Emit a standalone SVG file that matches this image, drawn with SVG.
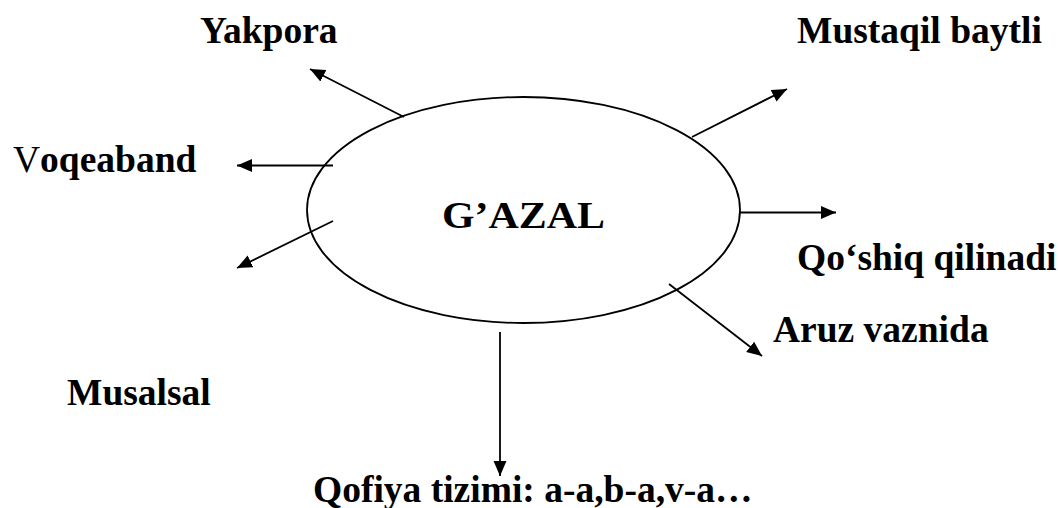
<svg xmlns="http://www.w3.org/2000/svg" width="1058" height="508" viewBox="0 0 1058 508">
<style>
.t{font-family:"Liberation Serif","Times New Roman",serif;font-weight:bold;font-size:37.5px;fill:#000}
.c{stroke:#000;stroke-width:1.8;fill:none}
</style>
<defs>
<marker id="ah" markerUnits="userSpaceOnUse" markerWidth="16" markerHeight="14" refX="15" refY="6.5" orient="auto">
<path d="M0,0 L15,6.5 L0,13 Z" fill="#000"/>
</marker>
</defs>
<rect width="1058" height="508" fill="#fff"/>
<g id="gazal">
<ellipse cx="523.5" cy="210" rx="216.5" ry="113" class="c" stroke-width="2"/>
<text class="t" x="442" y="228" font-size="49" textLength="163" lengthAdjust="spacingAndGlyphs">G’AZAL</text>
</g>
<g id="connectors">
<line class="c" x1="404" y1="117" x2="310" y2="69" marker-end="url(#ah)"/>
<line class="c" x1="333" y1="165.5" x2="237" y2="165.5" marker-end="url(#ah)"/>
<line class="c" x1="333" y1="221" x2="237" y2="268" marker-end="url(#ah)"/>
<line class="c" x1="692" y1="137" x2="787" y2="89" marker-end="url(#ah)"/>
<line class="c" x1="740" y1="212.5" x2="836" y2="212.5" marker-end="url(#ah)"/>
<line class="c" x1="669" y1="284" x2="762" y2="356" marker-end="url(#ah)"/>
<line class="c" x1="500" y1="332" x2="500" y2="476" marker-end="url(#ah)"/>
</g>
<g id="yakpora"><text class="t" x="200" y="43">Yakpora</text></g>
<g id="mustaqil"><text class="t" x="797" y="43">Mustaqil baytli</text></g>
<g id="voqeaband"><text class="t" x="13" y="172"><tspan font-weight="normal">V</tspan>oqeaband</text></g>
<g id="qoshiq"><text class="t" x="797" y="270">Qo‘shiq qilinadi</text></g>
<g id="aruz"><text class="t" x="773" y="342">Aruz vaznida</text></g>
<g id="musalsal"><text class="t" x="67" y="405">Musalsal</text></g>
<g id="qofiya"><text class="t" x="313" y="502">Qofiya tizimi: a-a,b-a,v-a…</text></g>
</svg>
